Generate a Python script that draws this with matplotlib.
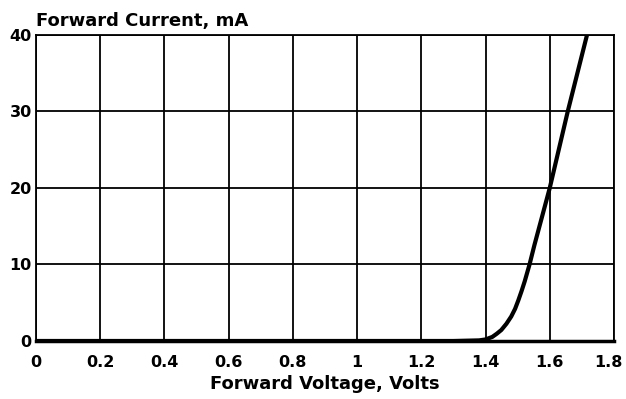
import matplotlib
matplotlib.use("Agg")
import matplotlib.pyplot as plt
import matplotlib.transforms as mtransforms

plt.rcParams['font.family'] = ['DejaVu Sans']
plt.rcParams['font.weight'] = 'bold'

# forward voltage (V) vs forward current (mA)
voltage = [0.0, 0.2, 0.4, 0.6, 0.8, 1.0, 1.2, 1.3, 1.38, 1.40, 1.421, 1.435,
           1.449, 1.465, 1.480, 1.492, 1.502, 1.512, 1.522, 1.537, 1.552, 1.568,
           1.584, 1.6, 1.628, 1.656, 1.686, 1.716]
current = [0, 0, 0, 0, 0, 0, 0, 0, 0.08, 0.2, 0.53, 0.95,
           1.43, 2.25, 3.2, 4.2, 5.3, 6.5, 7.8, 10, 12.5, 15,
           17.5, 20, 25, 30, 35, 40]

x_ticks = [0, 0.2, 0.4, 0.6, 0.8, 1.0, 1.2, 1.4, 1.6, 1.8]
x_labels = ['0', '0.2', '0.4', '0.6', '0.8', '1', '1.2', '1.4', '1.6', '1.8']
y_ticks = [0, 10, 20, 30, 40]

fig = plt.figure(figsize=(6.26, 3.99), dpi=100)
ax = fig.add_axes([0.0575, 0.1454, 0.9233, 0.767])

ax.plot(voltage, current, color='black', linewidth=3, solid_capstyle='butt',
        solid_joinstyle='round')

ax.set_xlim(0, 1.8)
ax.set_ylim(0, 40)
ax.set_xticks(x_ticks)
ax.set_xticklabels(x_labels)
ax.set_yticks(y_ticks)
ax.grid(True, color='black', linewidth=1.3)
ax.tick_params(length=0, labelsize=11.5, pad=10)
ax.tick_params(axis='y', pad=3)
for s in ax.spines.values():
    s.set_linewidth(1.3)
ax.spines['bottom'].set_linewidth(2.5)

# nudge the last x label left so it stays inside the figure
last = ax.get_xticklabels()[-1]
last.set_transform(last.get_transform() +
                   mtransforms.ScaledTranslation(-6 / 100, 0, fig.dpi_scale_trans))

ax.set_xlabel('Forward Voltage, Volts', fontsize=13, fontweight='bold', labelpad=4)
ax.text(0, 1.015, 'Forward Current, mA', transform=ax.transAxes,
        ha='left', va='bottom', fontsize=13, fontweight='bold')

fig.savefig('out.png', dpi=100)
